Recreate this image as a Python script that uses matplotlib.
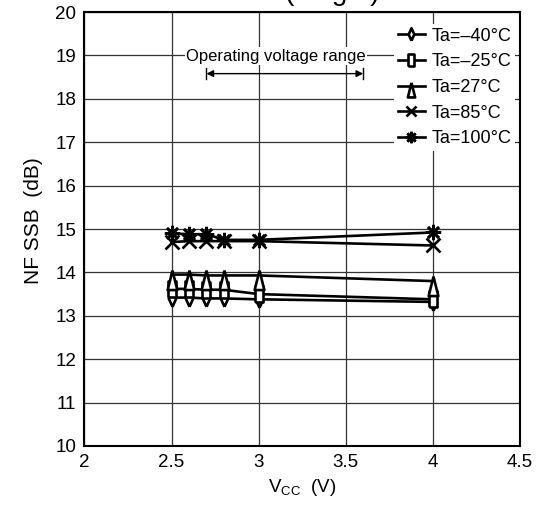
import matplotlib.pyplot as plt
from matplotlib.path import Path

plt.rcParams['font.family'] = ['Liberation Sans', 'DejaVu Sans']

# supply voltage points (V)
vcc = [2.5, 2.6, 2.7, 2.8, 3.0, 4.0]

# NF SSB (dB) for each ambient temperature
nf_m40 = [13.42, 13.42, 13.40, 13.40, 13.38, 13.32]
nf_m25 = [13.62, 13.62, 13.60, 13.60, 13.50, 13.38]
nf_27 = [13.95, 13.95, 13.93, 13.93, 13.93, 13.80]
nf_85 = [14.70, 14.72, 14.72, 14.72, 14.72, 14.62]
nf_100 = [14.90, 14.88, 14.88, 14.75, 14.75, 14.92]

labels = ['Ta=\u201340\u00b0C', 'Ta=\u201325\u00b0C', 'Ta=27\u00b0C',
          'Ta=85\u00b0C', 'Ta=100\u00b0C']

x_ticks = [2, 2.5, 3, 3.5, 4, 4.5]
y_ticks = list(range(10, 21))

# tall markers like in the datasheet
tall_diamond = Path([(0, -1), (0.45, 0), (0, 1), (-0.45, 0), (0, -1)])
tall_square = Path([(-0.5, -1), (0.5, -1), (0.5, 1), (-0.5, 1), (-0.5, -1)])
tall_triangle = Path([(0, 0.5), (0.5, -1.5), (-0.5, -1.5), (0, 0.5)])

fig = plt.figure(figsize=(5.5, 5.22), dpi=100)
ax = fig.add_axes([0.1536, 0.1456, 0.7919, 0.8314])

series = [nf_m40, nf_m25, nf_27, nf_85, nf_100]
markers = [tall_diamond, tall_square, tall_triangle, 'x', (8, 2, 0)]
sizes = [12, 11, 21, 10, 11]
for vals, mk, ms, lab in zip(series, markers, sizes, labels):
    ax.plot(vcc, vals, color='black', lw=1.9, marker=mk, markersize=ms,
            markerfacecolor='white', markeredgecolor='black',
            markeredgewidth=1.9, label=lab, zorder=3)

ax.set_xlim(2, 4.5)
ax.set_ylim(10, 20)
ax.set_xticks(x_ticks)
ax.set_xticklabels(['2', '2.5', '3', '3.5', '4', '4.5'])
ax.set_yticks(y_ticks)
ax.tick_params(length=0, labelsize=13.5, pad=6)
ax.grid(True, color='#333333', lw=0.9)
ax.set_axisbelow(True)
for s in ax.spines.values():
    s.set_linewidth(1.5)

ax.set_xlabel('V$_{\\mathregular{CC}}$  (V)', fontsize=13.5, labelpad=4)
ax.set_ylabel('NF SSB  (dB)', fontsize=15)
ax.yaxis.set_label_coords(-0.095, 0.52)

# operating voltage range annotation
ax.text(3.10, 18.98, 'Operating voltage range', fontsize=12, ha='center',
        va='center', bbox=dict(facecolor='white', edgecolor='none', pad=1),
        zorder=4)
ax.annotate('', xy=(3.6, 18.58), xytext=(2.7, 18.58),
            arrowprops=dict(arrowstyle='<|-|>', color='black', lw=1,
                            mutation_scale=10, shrinkA=0, shrinkB=0))
ax.plot([2.7, 2.7], [18.45, 18.72], color='black', lw=1)
ax.plot([3.6, 3.6], [18.45, 18.72], color='black', lw=1)

leg = ax.legend(loc='upper right', bbox_to_anchor=(0.988, 0.972), fontsize=13,
                frameon=True, framealpha=1, edgecolor='none', markerscale=0.75,
                handlelength=1.5, handletextpad=0.35, labelspacing=0.48,
                borderpad=0.2, borderaxespad=0.0)
leg.get_frame().set_linewidth(0)

# title sits above the visible area, only its bottom shows
fig.text(0.603, 1.0, '(Target)', fontsize=20, ha='center', va='baseline')

fig.savefig('out.png', dpi=100)
